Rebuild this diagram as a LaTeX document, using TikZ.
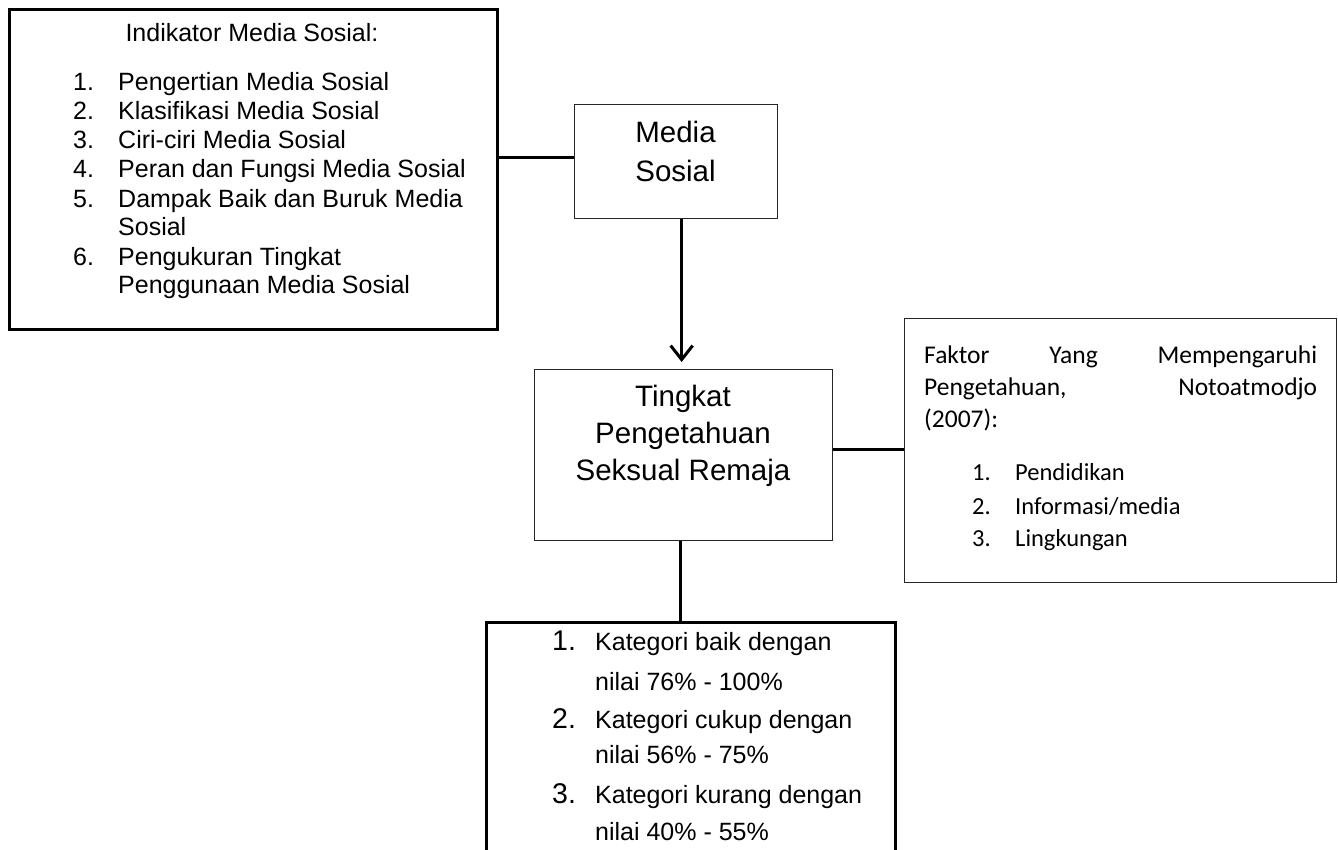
\documentclass[tikz,border=0pt]{standalone}
\usepackage{fontspec}
\setmainfont{Liberation Sans}
\newfontfamily\carl{Carlito}
\usetikzlibrary{arrows.meta}
\tikzset{
  thickbox/.style={draw=black, line width=2.6pt, inner sep=0pt, anchor=north west},
  thinbox/.style={draw=black!85, line width=1.3pt, inner sep=0pt, anchor=north west},
  conn/.style={line width=3pt},
  lt/.style={inner sep=0pt, anchor=base west},
  ct/.style={inner sep=0pt, anchor=base},
  fa/.style={font=\fontsize{25}{29}\selectfont},
  fb/.style={font=\fontsize{29.5}{36}\selectfont},
  fc/.style={font=\carl\fontsize{25.5}{32}\selectfont},
  fd/.style={font=\carl\fontsize{24.5}{32}\selectfont},
  fe/.style={font=\fontsize{25}{30}\selectfont},
  fn/.style={font=\fontsize{28.5}{30}\selectfont},
}
\begin{document}
\begin{tikzpicture}[x=1pt,y=-1pt]
\useasboundingbox (0,0) rectangle (1338,849);
\clip (0,0) rectangle (1338,849);
% boxes
\node[thickbox, minimum width=488pt, minimum height=320pt] (ind) at (8,8) {};
\node[thinbox, minimum width=203pt, minimum height=114pt] (med) at (574,104) {};
\node[thinbox, minimum width=298pt, minimum height=171pt] (ting) at (534,369) {};
\node[thinbox, minimum width=432pt, minimum height=264pt] (fak) at (904,318) {};
\node[thickbox, minimum width=409pt, minimum height=280pt] (bot) at (485,621) {};
% connectors
\coordinate (mw) at ([yshift=4pt]med.west);
\coordinate (te) at ([yshift=5.5pt]ting.east);
\coordinate (ts) at ([xshift=-3pt]ting.south);
\draw[conn] (mw -| ind.east) -- (mw);
\draw[conn, -{Straight Barb[length=14pt,width=22pt,line width=3pt]}] ([xshift=-2pt]med.south -| ting.north) -- ([xshift=-2pt,yshift=7pt]ting.north);
\draw[conn] (te) -- (te -| fak.west);
\draw[conn] (ts) -- (ts |- bot.north);
% Indikator text
\node[ct, fa] (i0) at (252,41) {Indikator Media Sosial:};
\node[lt, fa] (n1) at (73,90) {1.};
\node[lt, fa] (t1) at (118,90) {Pengertian Media Sosial};
\node[lt, fa] (n2) at (73,119) {2.};
\node[lt, fa] (t2) at (118,119) {Klasifikasi Media Sosial};
\node[lt, fa] (n3) at (73,148) {3.};
\node[lt, fa] (t3) at (118,148) {Ciri-ciri Media Sosial};
\node[lt, fa] (n4) at (73,177) {4.};
\node[lt, fa] (t4) at (118,177) {Peran dan Fungsi Media Sosial};
\node[lt, fa] (n5) at (73,207) {5.};
\node[lt, fa] (t5) at (118,207) {Dampak Baik dan Buruk Media};
\node[lt, fa] (t5b) at (118,235) {Sosial};
\node[lt, fa] (n6) at (73,265) {6.};
\node[lt, fa] (t6) at (118,265) {Pengukuran Tingkat};
\node[lt, fa] (t6b) at (118,293) {Penggunaan Media Sosial};
% Media Sosial
\node[ct, fb] (m1) at (675.5,142) {Media};
\node[ct, fb] (m2) at (675.5,181) {Sosial};
% Tingkat
\node[ct, fb] (g1) at (683,406) {Tingkat};
\node[ct, fb] (g2) at (683,443) {Pengetahuan};
\node[ct, fb] (g3) at (683,480) {Seksual Remaja};
% Faktor
\node[lt, fc] (f1) at (924,363) {\makebox[393pt][s]{Faktor\hfill Yang\hfill Mempengaruhi}};
\node[lt, fc] (f2) at (924,395) {\makebox[393pt][s]{Pengetahuan,\hfill Notoatmodjo}};
\node[lt, fc] (f3) at (924,427) {(2007):};
\node[lt, fd] (fn1) at (972,480) {1.};
\node[lt, fd] (ft1) at (1015,480) {Pendidikan};
\node[lt, fd] (fn2) at (972,514) {2.};
\node[lt, fd] (ft2) at (1015,514) {Informasi/media};
\node[lt, fd] (fn3) at (972,546) {3.};
\node[lt, fd] (ft3) at (1015,546) {Lingkungan};
% Kategori
\node[lt, fn] (k1n) at (552,650) {1.};
\node[lt, fe] (k1a) at (595,650) {Kategori baik dengan};
\node[lt, fe] (k1b) at (595,690) {nilai 76\% - 100\%};
\node[lt, fn] (k2n) at (552,728) {2.};
\node[lt, fe] (k2a) at (595,728) {Kategori cukup dengan};
\node[lt, fe] (k2b) at (595,763) {nilai 56\% - 75\%};
\node[lt, fn] (k3n) at (552,803) {3.};
\node[lt, fe] (k3a) at (595,803) {Kategori kurang dengan};
\node[lt, fe] (k3b) at (595,840) {nilai 40\% - 55\%};
\end{tikzpicture}
\end{document}
